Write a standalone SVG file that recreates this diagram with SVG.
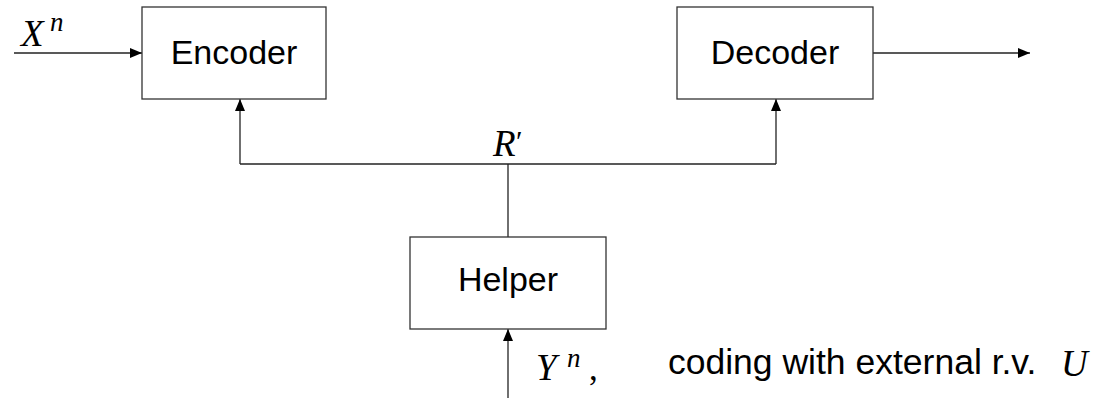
<svg xmlns="http://www.w3.org/2000/svg" width="1093" height="398" viewBox="0 0 1093 398">
  <style>
    .box { fill: #fff; stroke: #333; stroke-width: 1.3; }
    .label { font-family: "Liberation Sans", Arial, sans-serif; font-size: 34px; fill: #000; text-anchor: middle; }
    .text { font-family: "Liberation Sans", Arial, sans-serif; font-size: 35.5px; fill: #000; }
    .math { font-family: "Liberation Serif", "Times New Roman", serif; font-style: italic; font-size: 37px; fill: #000; }
    .sup { font-family: "Liberation Serif", "Times New Roman", serif; font-style: italic; font-size: 27px; fill: #000; }
    .wire { fill: none; stroke: #222; stroke-width: 1.3; }
  </style>
  <defs>
    <marker id="arrow" viewBox="0 0 12 10" refX="12" refY="5" markerWidth="12" markerHeight="10" markerUnits="userSpaceOnUse" orient="auto">
      <path d="M0,0 L12,5 L0,10 Z" fill="#000"/>
    </marker>
  </defs>

  <g id="connectors">
    <!-- source into encoder -->
    <line class="wire" x1="14" y1="53" x2="142" y2="53" marker-end="url(#arrow)"/>
    <!-- decoder output -->
    <line class="wire" x1="873" y1="53" x2="1030" y2="53" marker-end="url(#arrow)"/>
    <!-- helper message bus -->
    <line class="wire" x1="508" y1="237" x2="508" y2="164"/>
    <line class="wire" x1="240" y1="164" x2="776" y2="164"/>
    <line class="wire" x1="240" y1="164" x2="240" y2="99" marker-end="url(#arrow)"/>
    <line class="wire" x1="776" y1="164" x2="776" y2="99" marker-end="url(#arrow)"/>
    <!-- side information into helper -->
    <line class="wire" x1="508" y1="398" x2="508" y2="329" marker-end="url(#arrow)"/>
  </g>

  <g id="encoder">
    <rect class="box" x="142" y="7" width="184" height="92"/>
    <text class="label" x="234" y="64">Encoder</text>
  </g>

  <g id="decoder">
    <rect class="box" x="677" y="7" width="196" height="92"/>
    <text class="label" x="775" y="64">Decoder</text>
  </g>

  <g id="helper">
    <rect class="box" x="410" y="237" width="196" height="92"/>
    <text class="label" x="508" y="291">Helper</text>
  </g>

  <g id="labels">
    <text class="math" x="21" y="46">X</text>
    <text class="sup" x="50" y="31">n</text>
    <text class="math" x="493" y="156">R</text>
    <text x="516" y="151" font-family="Liberation Serif, serif" font-size="30">′</text>
    <text class="math" x="536" y="380">Y</text>
    <text class="sup" x="567" y="367">n</text>
    <text x="589" y="380" font-family="Liberation Serif, serif" font-size="35">,</text>
    <text class="text" x="668" y="374">coding with external r.v.</text>
    <text class="math" x="1061" y="376">U</text>
  </g>
</svg>
